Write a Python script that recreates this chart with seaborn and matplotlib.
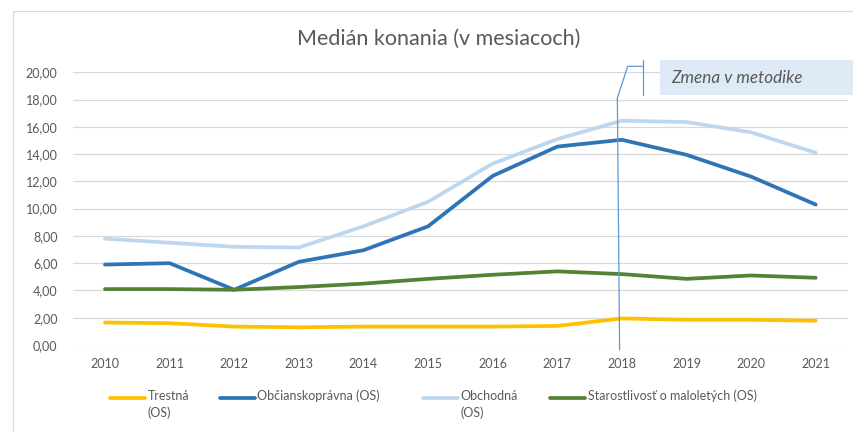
import matplotlib
matplotlib.use("Agg")
import matplotlib.pyplot as plt
import seaborn as sns
import pandas as pd
from matplotlib.patches import Rectangle
from matplotlib.lines import Line2D

years = ["2010", "2011", "2012", "2013", "2014", "2015", "2016", "2017", "2018", "2019", "2020", "2021"]
trestna = [1.65, 1.60, 1.35, 1.30, 1.35, 1.35, 1.35, 1.40, 1.95, 1.85, 1.85, 1.78]
obcianskopravna = [5.90, 6.00, 4.05, 6.10, 6.95, 8.70, 12.40, 14.55, 15.05, 13.95, 12.35, 10.30]
obchodna = [7.80, 7.50, 7.20, 7.15, 8.70, 10.50, 13.30, 15.10, 16.45, 16.35, 15.60, 14.10]
starostlivost = [4.10, 4.10, 4.05, 4.25, 4.50, 4.85, 5.15, 5.40, 5.20, 4.85, 5.10, 4.93]

series_names = ["Trestná\n(OS)", "Občianskoprávna (OS)", "Obchodná\n(OS)", "Starostlivosť o maloletých (OS)"]
series_values = [trestna, obcianskopravna, obchodna, starostlivost]
colors = ["#FFC000", "#2E75B6", "#BDD7EE", "#548235"]

rows = []
for name, vals in zip(series_names, series_values):
    for y, v in zip(years, vals):
        rows.append({"Rok": y, "Hodnota": v, "Séria": name})
df = pd.DataFrame(rows)

sns.set_theme(style="white")
plt.rcParams['font.family'] = ['Lato', 'DejaVu Sans']

W, H = 854, 432
fig = plt.figure(figsize=(W / 100, H / 100), dpi=100)

def fx(px):
    return px / W

def fy(py):
    return 1 - py / H

ax = fig.add_axes([fx(72.7), fy(345), fx(848) - fx(72.7), fy(72.3) - fy(345)])

sns.lineplot(data=df, x="Rok", y="Hodnota", hue="Séria", palette=colors,
             hue_order=series_names, linewidth=2.7, ax=ax, legend=False, sort=False)

ax.set_xlim(-0.5, len(years) - 0.5)
ax.set_ylim(0, 20)
ax.set_yticks([0, 2, 4, 6, 8, 10, 12, 14, 16, 18, 20])
ax.set_yticklabels([f"{v:.2f}".replace(".", ",") for v in range(0, 21, 2)])
ax.grid(axis="y", color="#D9D9D9", linewidth=0.9)
ax.set_axisbelow(True)
for s in ax.spines.values():
    s.set_visible(False)
ax.tick_params(axis="both", length=0, labelsize=9, colors="#595959")
ax.tick_params(axis="y", pad=11)
ax.tick_params(axis="x", pad=9)
ax.set_xlabel("")
ax.set_ylabel("")

# vertical methodology marker at 2018
ax.plot([7.93, 7.965], [18.1, -0.37], color="#5B9BD5", linewidth=0.9, clip_on=False, zorder=5)
# callout leader
ax.plot([7.93, 8.09, 8.32], [18.1, 20.44, 20.44], color="#5B9BD5", linewidth=0.9, clip_on=False, zorder=5)
ax.plot([8.32, 8.32], [20.88, 18.3], color="#5B9BD5", linewidth=0.9, clip_on=False, zorder=5)

# callout box
fig.patches.append(Rectangle((fx(660), fy(95)), fx(860) - fx(660), fy(60) - fy(95),
                             transform=fig.transFigure, facecolor="#DEEAF6", edgecolor="none", zorder=1))
fig.text(fx(671), fy(78), "Zmena v metodike", fontsize=12.3, style="italic", color="#595959",
         ha="left", va="center")

# outer chart border
fig.patches.append(Rectangle((fx(13.5), fy(440)), fx(870), fy(10.5) - fy(440),
                             transform=fig.transFigure, facecolor="none", edgecolor="#D9D9D9",
                             linewidth=0.9, zorder=0))

# title
fig.text(fx(439), fy(39), "Medián konania (v mesiacoch)", fontsize=15.5, color="#595959",
         ha="center", va="center")

# legend (manually positioned entries, Excel-like layout)
handle_x = [110, 220, 423, 550]
for hx, name, c in zip(handle_x, series_names, colors):
    fig.lines.append(Line2D([fx(hx), fx(hx + 35)], [fy(398), fy(398)], transform=fig.transFigure,
                            color=c, linewidth=2.7, solid_capstyle="round"))
    fig.text(fx(hx + 37.5), fy(389.5), name, fontsize=9, color="#595959", ha="left", va="top",
             linespacing=1.45)

fig.savefig("out.png", dpi=100)
